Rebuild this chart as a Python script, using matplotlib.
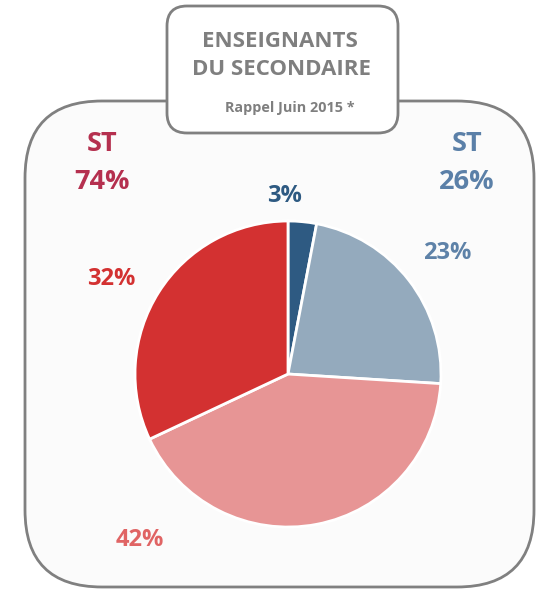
import numpy as np
import matplotlib
matplotlib.use("Agg")
import matplotlib.pyplot as plt
from matplotlib.patches import FancyBboxPatch

#-------------------------------------------------------------
# Data
#-------------------------------------------------------------
shares = [3, 23, 42, 32]   # %, clockwise from the top
slice_colors = ['#2E5A82', '#94AABD', '#E79595', '#D33131']
label_colors = ['#2E5A82', '#5E82A8', '#E06464', '#D33131']
explode = [0, 0, 0.035, 0]

title_lines = ['ENSEIGNANTS', 'DU SECONDAIRE']
subtitle = 'Rappel Juin 2015 *'
group_names = ['ST', 'ST']
group_totals = [74, 26]
group_colors = ['#B5304F', '#5B80A8']

#-------------------------------------------------------------
# Figure (pixel-like coordinates, y going down)
#-------------------------------------------------------------
W, H = 537, 589
fig = plt.figure(figsize=(W/100, H/100), dpi=100)
ax = fig.add_axes([0, 0, 1, 1])
ax.set_xlim(0, W)
ax.set_ylim(H, 0)
ax.set_aspect('equal')
ax.axis('off')

font = ['Open Sans', 'DejaVu Sans']

# outer rounded frame
outer = FancyBboxPatch((25, 101), 509, 486, boxstyle='round,pad=0,rounding_size=77',
                       facecolor='#FBFBFB', edgecolor='#808080', linewidth=2, zorder=1)
ax.add_patch(outer)

# title box
tbox = FancyBboxPatch((167, 6), 231, 127, boxstyle='round,pad=0,rounding_size=20',
                      facecolor='white', edgecolor='#808080', linewidth=2, zorder=2)
ax.add_patch(tbox)

ax.text(280, 47, title_lines[0], ha='center', va='baseline', fontsize=16,
        fontweight='bold', color='#7F7F7F', family=font, zorder=3)
ax.text(281, 75, title_lines[1], ha='center', va='baseline', fontsize=16,
        fontweight='bold', color='#7F7F7F', family=font, zorder=3)
ax.text(290, 112, subtitle, ha='center', va='baseline', fontsize=10.4,
        fontweight='bold', color='#7F7F7F', family=font, zorder=3)

# pie (inverted y axis -> counterclock=True draws clockwise on screen)
wedges, _ = ax.pie(shares, colors=slice_colors, explode=explode, startangle=-90,
                   counterclock=True, center=(288, 374), radius=153,
                   wedgeprops=dict(edgecolor='white', linewidth=2), frame=True)
for w in wedges:
    w.set_zorder(3)
ax.set_xlim(0, W)
ax.set_ylim(H, 0)
ax.axis('off')

# slice labels
label_pos = [(285, 202), (447, 259), (140, 546), (111, 285)]
for s, c, (x, y) in zip(shares, label_colors, label_pos):
    ax.text(x, y, f'{s}%', ha='center', va='baseline', fontsize=17,
            fontweight='bold', color=c, family=font, zorder=4)

# group totals
group_pos = [(102, 151, 189), (467, 151, 189)]
for name, tot, c, (x, y1, y2) in zip(group_names, group_totals, group_colors, group_pos):
    ax.text(x, y1, name, ha='center', va='baseline', fontsize=19.5,
            fontweight='bold', color=c, family=font, zorder=4)
    ax.text(x, y2, f'{tot}%', ha='center', va='baseline', fontsize=19.5,
            fontweight='bold', color=c, family=font, zorder=4)

plt.savefig('out.png', dpi=100)
